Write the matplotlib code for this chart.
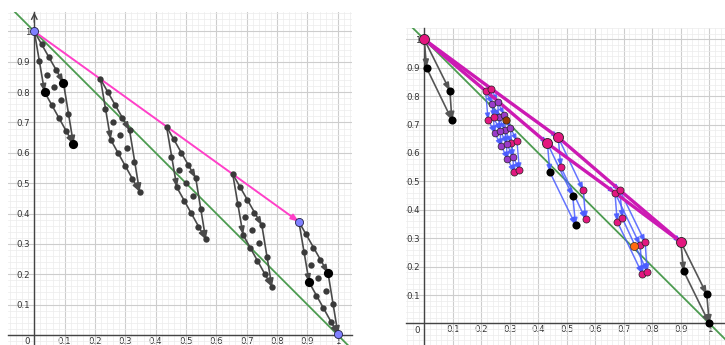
import matplotlib.pyplot as plt
from matplotlib.ticker import MultipleLocator

# axis ticks
tick_vals = [0.0, 0.1, 0.2, 0.3, 0.4, 0.5, 0.6, 0.7, 0.8, 0.9, 1.0]
tick_labels = ['', '0.1', '0.2', '0.3', '0.4', '0.5', '0.6', '0.7', '0.8', '0.9', '1']

# line x + y = 1 (both panels)
green_p1 = (0.0, 1.0)
green_p2 = (1.0, 0.0)

# ---- left panel ----
left_start_x = [0.0, 0.218, 0.436, 0.654, 0.872]
left_start_y = [1.0, 0.843, 0.686, 0.530, 0.373]
# shape of one group, offsets from its start point (read from the first group)
left_dx = [0.0, 0.024, 0.047, 0.071, 0.096,
           0.016, 0.041, 0.064, 0.088, 0.112,
           0.034, 0.058, 0.081, 0.105, 0.129]
left_dy = [0.0, -0.041, -0.085, -0.127, -0.169,
           -0.099, -0.142, -0.184, -0.227, -0.272,
           -0.200, -0.243, -0.285, -0.329, -0.371]
# arrows inside a group: start->B, start->C, B->D, C->D (indices into offsets)
left_edges = [(0, 10), (0, 4), (10, 14), (4, 14)]

# ---- right panel ----
r_start = (0.0, 1.0)
r_end = (0.9, 0.287)
grey_a_x = [0.0, 0.008, 0.090, 0.097]
grey_a_y = [1.0, 0.900, 0.819, 0.716]
grey_b_x = [0.9, 0.910, 0.991, 1.0]
grey_b_y = [0.287, 0.184, 0.102, 0.0]

# first cluster: two lattices
c1_start_x = [0.215, 0.234]
c1_start_y = [0.819, 0.827]
c1_dx = [0.0, 0.023, 0.046, 0.068, 0.091,
         0.009, 0.032, 0.055, 0.077, 0.100]
c1_dy = [0.0, -0.046, -0.092, -0.138, -0.184,
         -0.102, -0.148, -0.194, -0.240, -0.286]
c1_special = (0.287, 0.716)

# second and third cluster: corners A, B, C, D of two parallelograms
c2_low_x = [0.432, 0.441, 0.521, 0.531]
c2_low_y = [0.634, 0.532, 0.448, 0.346]
c2_up_x = [0.470, 0.479, 0.558, 0.566]
c2_up_y = [0.655, 0.551, 0.469, 0.367]
c3_low_x = [0.669, 0.677, 0.757, 0.765]
c3_low_y = [0.460, 0.358, 0.276, 0.174]
c3_up_x = [0.686, 0.695, 0.775, 0.782]
c3_up_y = [0.469, 0.370, 0.285, 0.182]
c3_special = (0.737, 0.272)

GREY = '#4a4a4a'
BLUE = '#4a5cff'
PINK = '#e3177f'
PURPLE = '#9b3ac9'
MAGENTA = '#cc1ab3'
GREEN = '#4c9b50'


def arrow(ax, p, q, color, lw=1.1, z=3, alpha=1.0, hl=0.45, hw=0.17):
    ax.annotate('', xy=q, xytext=p, zorder=z,
                arrowprops=dict(arrowstyle=f'-|>,head_length={hl},head_width={hw}',
                                color=color, lw=lw, shrinkA=0, shrinkB=0, alpha=alpha))


def setup(ax, xlim, ylim):
    ax.set_xlim(*xlim)
    ax.set_ylim(*ylim)
    ax.set_xticks(tick_vals, labels=tick_labels)
    ax.set_yticks(tick_vals, labels=tick_labels)
    ax.xaxis.set_minor_locator(MultipleLocator(0.02))
    ax.yaxis.set_minor_locator(MultipleLocator(0.02))
    ax.grid(which='major', color='#cdcdcd', lw=0.8)
    ax.grid(which='minor', color='#ececec', lw=0.5)
    ax.set_axisbelow(True)
    for s in ['top', 'right']:
        ax.spines[s].set_visible(False)
    for s in ['left', 'bottom']:
        ax.spines[s].set_position(('data', 0))
        ax.spines[s].set_color('#444444')
        ax.spines[s].set_linewidth(1.0)
    ax.tick_params(which='both', length=0, labelsize=6.2, labelcolor='#333333')
    ax.tick_params(axis='x', pad=1.5)
    ax.tick_params(axis='y', pad=3)
    ax.annotate('0', xy=(0, 0), xytext=(-5, -5), textcoords='offset points',
                ha='center', va='center', fontsize=6.2, color='#333333')
    ax.axline(green_p1, green_p2, color=GREEN, lw=1.3, zorder=2)


fig = plt.figure(figsize=(7.25, 3.45), dpi=100)
axL = fig.add_axes([8 / 725, 0, 344 / 725, 333 / 345])
axR = fig.add_axes([406 / 725, 0, 319 / 725, 317 / 345])

# ---------- left ----------
setup(axL, (-0.0867, 1.047), (-0.033, 1.064))
axL.annotate('', xy=(0, 1.063), xytext=(0, 1.03),
             arrowprops=dict(arrowstyle='->', color='#444444', lw=1.0,
                             shrinkA=0, shrinkB=0))
arrow(axL, (left_start_x[0], left_start_y[0]), (left_start_x[-1], left_start_y[-1]),
      '#ff40c8', lw=1.4, z=3)

for g, (sx, sy) in enumerate(zip(left_start_x, left_start_y)):
    xs = [sx + d for d in left_dx]
    ys = [sy + d for d in left_dy]
    for i, j in left_edges:
        arrow(axL, (xs[i], ys[i]), (xs[j], ys[j]), GREY, lw=1.2, z=3)
    axL.scatter(xs, ys, s=21, color='#3a3a3a', zorder=5, linewidths=0)
    if g == 0:
        axL.scatter([xs[4], xs[10], xs[14]], [ys[4], ys[10], ys[14]],
                    s=44, color='black', zorder=6, linewidths=0)
        axL.scatter([xs[0]], [ys[0]], s=34, color='#8080ff',
                    edgecolors='#222244', linewidths=0.6, zorder=7)
    if g == len(left_start_x) - 1:
        axL.scatter([xs[4], xs[10]], [ys[4], ys[10]],
                    s=44, color='black', zorder=6, linewidths=0)
        axL.scatter([xs[0], xs[14]], [ys[0], ys[14]], s=34, color='#8080ff',
                    edgecolors='#222244', linewidths=0.6, zorder=7)

# ---------- right ----------
setup(axR, (-0.064, 1.055), (-0.076, 1.040))

# grey steps at start and end
for gx, gy in [(grey_a_x, grey_a_y), (grey_b_x, grey_b_y)]:
    for i, j in [(0, 1), (0, 2), (1, 3), (2, 3)]:
        arrow(axR, (gx[i], gy[i]), (gx[j], gy[j]), '#555555', lw=1.2, z=3)
    axR.scatter(gx[1:], gy[1:], s=34, color='black', zorder=6, linewidths=0)

# first cluster lattices
for sx, sy in zip(c1_start_x, c1_start_y):
    xs = [sx + d for d in c1_dx]
    ys = [sy + d for d in c1_dy]
    for row in (0, 5):
        for k in range(4):
            arrow(axR, (xs[row + k], ys[row + k]), (xs[row + k + 1], ys[row + k + 1]),
                  BLUE, lw=1.0, z=3, alpha=0.85, hl=0.35, hw=0.14)
    for k in range(5):
        arrow(axR, (xs[k], ys[k]), (xs[k + 5], ys[k + 5]), BLUE, lw=1.0, z=3,
              alpha=0.85, hl=0.35, hw=0.14)
    corner = [0, 4, 5, 9]
    inner = [1, 2, 3, 6, 7, 8]
    axR.scatter([xs[k] for k in inner], [ys[k] for k in inner], s=24, color=PURPLE,
                edgecolors='#222222', linewidths=0.5, zorder=6)
    axR.scatter([xs[k] for k in corner], [ys[k] for k in corner], s=26, color=PINK,
                edgecolors='#222222', linewidths=0.5, zorder=6)
axR.scatter([c1_special[0]], [c1_special[1]], s=28, color='#9a3a00',
            edgecolors='#222222', linewidths=0.5, zorder=7)

# second and third clusters
for px, py in [(c2_low_x, c2_low_y), (c2_up_x, c2_up_y),
               (c3_low_x, c3_low_y), (c3_up_x, c3_up_y)]:
    for i, j in [(0, 1), (0, 2), (1, 3), (2, 3)]:
        arrow(axR, (px[i], py[i]), (px[j], py[j]), BLUE, lw=1.1, z=3, alpha=0.85,
              hl=0.4, hw=0.15)

axR.scatter(c2_low_x[1:], c2_low_y[1:], s=34, color='black', zorder=6, linewidths=0)
axR.scatter(c2_up_x[1:], c2_up_y[1:], s=26, color=PINK,
            edgecolors='#222222', linewidths=0.5, zorder=6)
axR.scatter([c2_low_x[0], c2_up_x[0]], [c2_low_y[0], c2_up_y[0]], s=52, color=PINK,
            edgecolors='#222222', linewidths=0.6, zorder=7)
axR.scatter(c3_low_x + c3_up_x, c3_low_y + c3_up_y, s=26, color=PINK,
            edgecolors='#222222', linewidths=0.5, zorder=6)
axR.scatter([c3_special[0]], [c3_special[1]], s=34, color='#ff6a10',
            edgecolors='#333333', linewidths=0.5, zorder=7)

# averaged path: two polylines through the cluster starts
low_x = [r_start[0], c1_start_x[0], c2_low_x[0], c3_low_x[0], r_end[0]]
low_y = [r_start[1], c1_start_y[0], c2_low_y[0], c3_low_y[0], r_end[1]]
up_x = [r_start[0], c1_start_x[1], c2_up_x[0], c3_up_x[0], r_end[0]]
up_y = [r_start[1], c1_start_y[1], c2_up_y[0], c3_up_y[0], r_end[1]]
for lx, ly in [(low_x, low_y), (up_x, up_y)]:
    for k in range(1, len(lx) - 1):
        arrow(axR, (lx[k], ly[k]), (lx[k + 1], ly[k + 1]), BLUE, lw=1.0, z=3,
              hl=0.35, hw=0.14)
    axR.plot(lx, ly, color=MAGENTA, lw=2.4, zorder=4, solid_capstyle='round')

axR.scatter([r_start[0], r_end[0]], [r_start[1], r_end[1]], s=52, color=PINK,
            edgecolors='#222222', linewidths=0.6, zorder=7)

fig.savefig('out.png', dpi=100)
